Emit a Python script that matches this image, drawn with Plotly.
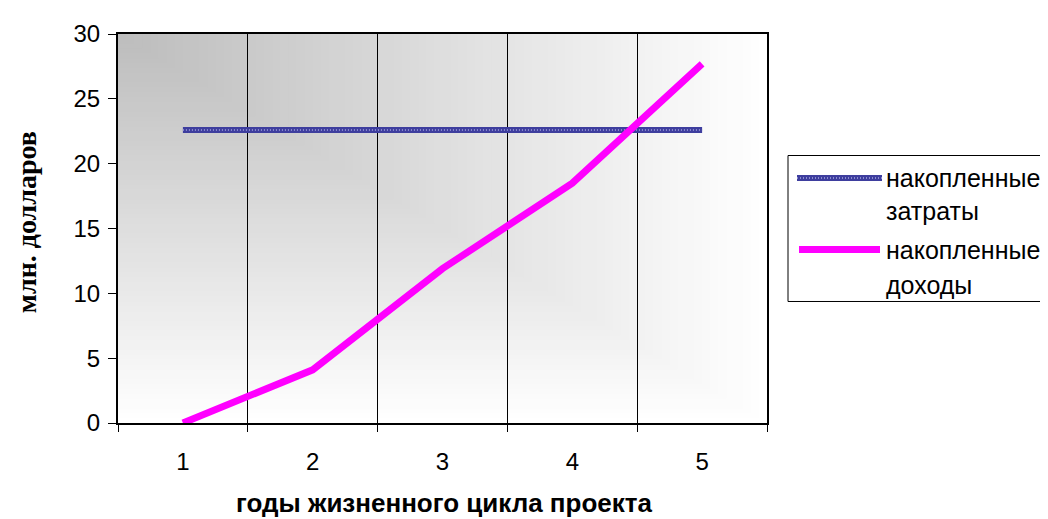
import plotly.graph_objects as go

# ---- data ----
years = ["1", "2", "3", "4", "5"]
costs = [22.6, 22.6, 22.6, 22.6, 22.6]          # накопленные затраты
revenues = [0.0, 4.1, 11.9, 18.5, 27.7]          # накопленные доходы
series_names = ["накопленные<br>затраты", "накопленные<br>доходы"]
y_ticks = [0, 5, 10, 15, 20, 25, 30]
x_title = "годы жизненного цикла проекта"
y_title = "млн. долларов"

# ---- layout geometry (pixels, in reference-window coordinates) ----
OFF = 8                      # page body margin
W, H = 1048 - OFF, 519 - OFF
PL, PR, PT, PB = 118, 767, 26, 423   # plot area in window pixels
L, T = PL - OFF, PT - OFF
R = W - (PR - OFF)
B = H - (PB - OFF)
PW = PR - PL
PH = PB - PT

def px(xp):
    return (xp - PL) / PW

def py(yp):
    return (PB - yp) / PH

BLUE = "#3e3e9e"
PINK = "#ff00ff"

fig = go.Figure()
fig.add_trace(go.Scatter(x=years, y=costs, mode="lines", name=series_names[0],
                         line=dict(color=BLUE, width=6), showlegend=False))
fig.add_trace(go.Scatter(x=years, y=costs, mode="lines", hoverinfo="skip",
                         line=dict(color="#8c8cd0", width=2, dash="1px,2px"), showlegend=False))
fig.add_trace(go.Scatter(x=years, y=revenues, mode="lines", name=series_names[1],
                         line=dict(color=PINK, width=7), showlegend=False))

shapes = []
# "from corner" gradient background: grey at top-left fading to white
N = 80
for k in range(N):
    s = 1 - k / N
    c = int(round(188 + 67 * s))
    shapes.append(dict(type="rect", xref="x domain", yref="y domain",
                       x0=0, x1=s, y0=1 - s, y1=1, layer="below",
                       line=dict(width=0), fillcolor=f"rgb({c},{c},{c})"))

# legend box (manual, to mimic the original wide samples)
shapes.append(dict(type="rect", xref="paper", yref="paper",
                   x0=px(788), x1=px(1070), y0=py(299), y1=py(150),
                   line=dict(color="black", width=1), fillcolor="white"))
shapes.append(dict(type="line", xref="paper", yref="paper",
                   x0=px(797), x1=px(882), y0=py(173), y1=py(173),
                   line=dict(color=BLUE, width=6)))
shapes.append(dict(type="line", xref="paper", yref="paper",
                   x0=px(797), x1=px(882), y0=py(173), y1=py(173),
                   line=dict(color="#8c8cd0", width=2, dash="1px,2px")))
shapes.append(dict(type="line", xref="paper", yref="paper",
                   x0=px(799), x1=px(880), y0=py(246), y1=py(246),
                   line=dict(color=PINK, width=7)))

legend_font = dict(family="Liberation Sans, Arial, sans-serif", size=25, color="black")
annotations = []
leg_lines = [(series_names[0].split("<br>")[0], 173), (series_names[0].split("<br>")[1], 207),
             (series_names[1].split("<br>")[0], 246), (series_names[1].split("<br>")[1], 282)]
for txt, yy in leg_lines:
    annotations.append(dict(text=txt, xref="paper", yref="paper", x=px(884), y=py(yy),
                            xanchor="left", yanchor="middle", showarrow=False, font=legend_font))

annotations.append(dict(text=f"<b>{x_title}</b>", xref="paper", yref="paper",
                        x=px(444), y=py(505), xanchor="center", yanchor="middle",
                        showarrow=False,
                        font=dict(family="Liberation Sans, Arial, sans-serif", size=26, color="black")))
annotations.append(dict(text=f"<b>{y_title}</b>", xref="paper", yref="paper",
                        x=px(26), y=py(218), xanchor="center", yanchor="middle",
                        textangle=-90, showarrow=False,
                        font=dict(family="Liberation Serif, Times New Roman, serif", size=28, color="black")))

fig.update_layout(
    width=W, height=H,
    margin=dict(l=L, r=R, t=T, b=B),
    paper_bgcolor="white", plot_bgcolor="white",
    shapes=shapes, annotations=annotations,
    showlegend=False,
    font=dict(family="Liberation Sans, Arial, sans-serif", size=24, color="black"),
)
fig.update_xaxes(type="category", range=[-0.5, 4.5], tickson="boundaries",
                 showgrid=True, gridcolor="black", gridwidth=1,
                 showline=True, linecolor="black", linewidth=2, mirror=True,
                 ticks="outside", ticklen=7, tickcolor="black", tickwidth=1,
                 ticklabelstandoff=16, tickfont=dict(size=24), zeroline=False)
fig.update_yaxes(range=[0, 30], tickvals=y_ticks, showgrid=False,
                 showline=True, linecolor="black", linewidth=2, mirror=True,
                 ticks="outside", ticklen=8, tickcolor="black", tickwidth=1,
                 ticklabelstandoff=3, tickfont=dict(size=24), zeroline=False)

fig.write_html("out.html")
